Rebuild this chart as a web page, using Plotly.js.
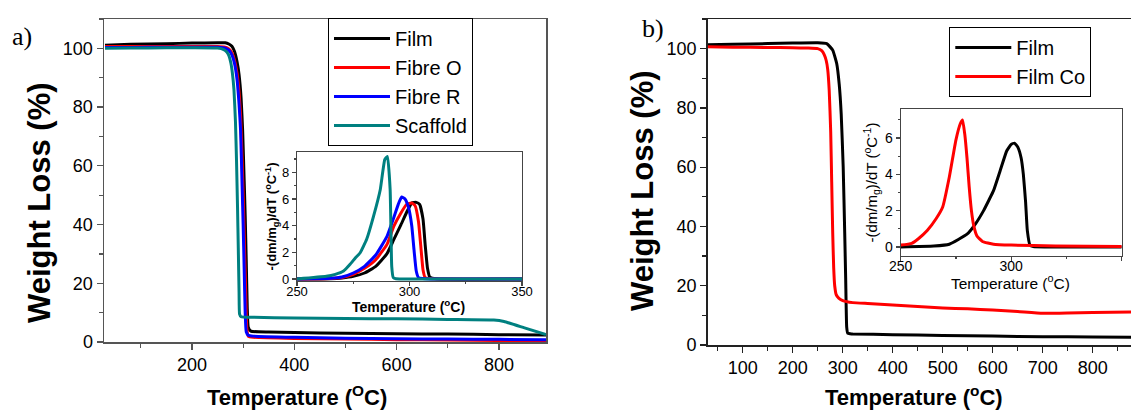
<!DOCTYPE html>
<html>
<head>
<meta charset="utf-8">
<script src="https://cdn.plot.ly/plotly-3.0.1.min.js"></script>
<style>html,body{margin:0;padding:0;background:#fff;}#chart{width:1131px;height:410px;}</style>
</head>
<body>
<div id="chart"></div>
<script>
// ---------- Panel a) main TGA curves ----------
const aFilmT   = [30, 80, 150, 200, 250, 265, 272, 278, 283, 288, 292, 296, 299, 302, 304, 306, 308, 310, 315, 350, 400, 500, 600, 700, 800, 892];
const aFilmW   = [101.1, 101.4, 101.6, 101.8, 101.9, 101.9, 101.5, 100.7, 99, 95.5, 91, 83, 72, 55, 43, 28, 12, 5, 3.7, 3.4, 3.2, 3.0, 2.8, 2.7, 2.5, 2.4];
const aFibOT   = [30, 80, 150, 200, 250, 265, 272, 278, 283, 288, 292, 295, 298, 301, 303, 305, 307, 310, 320, 400, 500, 600, 700, 800, 892];
const aFibOW   = [100.6, 100.6, 100.6, 100.6, 100.6, 100.4, 99.8, 98.5, 96, 91.5, 85, 77, 62, 44, 30, 17, 5, 2, 1.6, 1.2, 1.0, 0.8, 0.7, 0.5, 0.4];
const aFibRT   = [30, 80, 150, 200, 250, 265, 272, 278, 283, 288, 292, 295, 298, 300, 302, 304, 306, 310, 320, 400, 500, 600, 700, 800, 892];
const aFibRW   = [100.3, 100.3, 100.4, 100.4, 100.4, 100.1, 99.4, 97.8, 95, 89.5, 81, 72, 53, 40, 25, 10, 3.5, 2.3, 2.0, 1.6, 1.3, 1.1, 1.0, 0.9, 0.8];
const aScafT   = [30, 80, 150, 200, 250, 262, 268, 272, 276, 279, 282, 285, 287, 289, 290.5, 292, 293, 296, 320, 400, 500, 600, 700, 790, 810, 850, 892];
const aScafW   = [100.0, 100.1, 100.2, 100.2, 100.1, 99.6, 98.8, 97.6, 95, 91.5, 86, 75, 62, 46, 32, 17, 9.5, 8.6, 8.4, 8.2, 8.0, 7.9, 7.7, 7.5, 7.0, 4.8, 2.5];

// ---------- Panel a) inset DTG curves ----------
const iaFilmT  = [250, 265, 270, 275, 280, 285, 290, 293, 296, 299, 301, 303, 304.5, 306, 307, 308, 309, 312, 350];
const iaFilmD  = [0, 0.02, 0.08, 0.2, 0.45, 0.95, 1.9, 2.95, 4.0, 5.1, 5.7, 5.75, 5.6, 4.5, 2.5, 0.8, 0.15, 0.02, 0];
const iaFibOT  = [250, 265, 270, 275, 280, 285, 290, 293, 296, 298.7, 301, 302.5, 304, 305, 306, 307, 310, 350];
const iaFibOD  = [0, 0.04, 0.12, 0.35, 0.8, 1.45, 2.6, 3.95, 4.9, 5.6, 5.7, 5.5, 4.3, 2.5, 0.7, 0.1, 0.02, 0];
const iaFibRT  = [250, 265, 270, 275, 280, 285, 290, 293, 295, 296.5, 298, 299.5, 301, 302, 303, 304, 307, 350];
const iaFibRD  = [0, 0.05, 0.15, 0.45, 0.95, 1.8, 3.2, 4.6, 5.6, 6.15, 6.0, 5.4, 4.0, 2.2, 0.6, 0.1, 0.02, 0];
const iaScafT  = [250, 263, 267, 270.7, 273.6, 276, 278, 281, 284, 287, 289, 290.2, 291.4, 292.1, 292.8, 294, 300, 350];
const iaScafD  = [0, 0.2, 0.35, 0.6, 1.1, 1.6, 1.95, 3.0, 4.7, 6.7, 8.95, 9.2, 6.7, 0.95, 0.1, 0.02, 0, 0];

// ---------- Panel b) main TGA curves ----------
const bFilmT   = [30, 80, 150, 200, 250, 268, 280, 288, 293, 297, 301, 304, 306, 308, 310, 315, 320, 400, 500, 600, 700, 800, 877];
const bFilmW   = [101.3, 101.5, 101.7, 101.9, 102.0, 101.7, 99.5, 95, 88, 78, 60, 38, 22, 6, 4, 3.8, 3.7, 3.5, 3.2, 3.0, 2.8, 2.7, 2.6];
const bCoT     = [30, 80, 150, 200, 230, 250, 258, 263, 267, 270, 273, 276, 278, 280, 282, 284, 287, 292, 300, 320, 350, 400, 450, 500, 550, 600, 650, 700, 750, 800, 877];
const bCoW     = [100.6, 100.5, 100.4, 100.3, 100.2, 100, 99.3, 98, 96, 93, 86, 72, 55, 38, 26, 20, 17, 15.8, 15, 14.3, 14, 13.5, 13, 12.5, 12.2, 11.8, 11.3, 10.7, 10.8, 11, 11.1];

// ---------- Panel b) inset DTG curves ----------
const ibFilmT  = [250, 265, 272, 280, 284, 287.5, 290, 292, 295, 298, 300, 301.5, 303, 304.5, 305.5, 306.5, 307.3, 308.5, 310, 350];
const ibFilmD  = [0, 0.05, 0.15, 0.7, 1.3, 2.0, 2.6, 3.1, 4.2, 5.3, 5.65, 5.72, 5.5, 4.9, 4.0, 2.5, 0.9, 0.1, 0.02, 0];
const ibCoT    = [250, 255, 258, 262, 266, 269, 272, 275, 277, 278, 279, 280, 281, 282, 283, 284.5, 287, 292, 300, 320, 350];
const ibCoD    = [0.1, 0.2, 0.45, 0.9, 1.55, 2.2, 3.85, 5.9, 6.8, 7.0, 6.2, 4.9, 3.3, 2.0, 1.2, 0.6, 0.3, 0.15, 0.1, 0.05, 0.03];

const aNames = ['Film', 'Fibre O', 'Fibre R', 'Scaffold'];
const bNames = ['Film', 'Film Co'];
const colBlack = '#000000', colRed = '#ff0000', colBlue = '#0000ff', colTeal = '#008080';

const FONT = 'Liberation Sans, Arial, Helvetica, sans-serif';
const SERIF = 'Liberation Serif, Times New Roman, serif';

function line(x, y, color, name, xa, ya, opts) {
  return Object.assign({
    type: 'scatter', mode: 'lines', x: x, y: y, name: name,
    xaxis: xa, yaxis: ya, line: {color: color, width: 3, shape: 'spline', smoothing: 0.4},
    hoverinfo: 'skip', showlegend: false
  }, opts || {});
}

const traces = [
  line(aFilmT, aFilmW, colBlack, aNames[0], 'x', 'y', {showlegend: true, legend: 'legend'}),
  line(aFibOT, aFibOW, colRed, aNames[1], 'x', 'y', {showlegend: true, legend: 'legend'}),
  line(aFibRT, aFibRW, colBlue, aNames[2], 'x', 'y', {showlegend: true, legend: 'legend'}),
  line(aScafT, aScafW, colTeal, aNames[3], 'x', 'y', {showlegend: true, legend: 'legend'}),
  line(iaFilmT, iaFilmD, colBlack, aNames[0], 'x2', 'y2'),
  line(iaFibOT, iaFibOD, colRed, aNames[1], 'x2', 'y2'),
  line(iaFibRT, iaFibRD, colBlue, aNames[2], 'x2', 'y2'),
  line(iaScafT, iaScafD, colTeal, aNames[3], 'x2', 'y2'),
  line(bFilmT, bFilmW, colBlack, bNames[0], 'x3', 'y3', {showlegend: true, legend: 'legend2'}),
  line(bCoT, bCoW, colRed, bNames[1], 'x3', 'y3', {showlegend: true, legend: 'legend2'}),
  line(ibFilmT, ibFilmD, colBlack, bNames[0], 'x4', 'y4'),
  line(ibCoT, ibCoD, colRed, bNames[1], 'x4', 'y4')
];

function ax(o) {
  return Object.assign({
    showgrid: false, zeroline: false, showline: true, linewidth: 1.5,
    ticks: 'outside', tickwidth: 1.2, fixedrange: true,
    tickfont: {family: FONT, size: 18, color: '#000'}
  }, o);
}

const W = 1131, H = 410;
const px = v => v / W;
const py = v => (H - v) / H;

const layout = {
  width: W, height: H,
  margin: {l: 0, r: 0, t: 0, b: 0},
  paper_bgcolor: '#ffffff', plot_bgcolor: '#ffffff',
  font: {family: FONT, color: '#000'},
  showlegend: true,
  // panel a main
  xaxis: ax({domain: [px(104), px(546)], range: [28, 892], anchor: 'y', dtick: 200, tick0: 0,
    ticklen: 6, linecolor: '#555', tickcolor: '#555', mirror: true,
    minor: {dtick: 100, tick0: 0, ticks: 'outside', ticklen: 4, tickcolor: '#555'}}),
  yaxis: ax({domain: [py(342), py(19)], range: [0, 110], anchor: 'x', dtick: 20, tick0: 0,
    ticklen: 6, linecolor: '#555', tickcolor: '#555', mirror: true,
    minor: {dtick: 10, tick0: 0, ticks: 'outside', ticklen: 4, tickcolor: '#555'}}),
  // panel a inset
  xaxis2: ax({domain: [px(297), px(522)], range: [250, 350], anchor: 'y2', dtick: 50, tick0: 0,
    ticklen: 4, linecolor: '#444', tickcolor: '#444', mirror: true, linewidth: 1.2,
    ticklabelstandoff: -6,
    tickfont: {family: FONT, size: 13, color: '#000'},
    minor: {dtick: 25, tick0: 0, ticks: 'outside', ticklen: 2, tickcolor: '#444'}}),
  yaxis2: ax({domain: [py(281), py(152)], range: [-0.15, 9.53], anchor: 'x2', dtick: 2, tick0: 0,
    ticklen: 4, linecolor: '#444', tickcolor: '#444', mirror: true, linewidth: 1.2,
    tickfont: {family: FONT, size: 13, color: '#000'},
    minor: {dtick: 1, tick0: 0, ticks: 'outside', ticklen: 2, tickcolor: '#444'},
    title: {text: '-(dm/m<sub>g</sub>)/dT (<sup>o</sup>C<sup>-1</sup>)', standoff: 2,
      font: {family: FONT, size: 13, weight: 'bold', color: '#000'}}}),
  // panel b main
  xaxis3: ax({domain: [px(707.7), 1], range: [30, 876.6], anchor: 'y3', dtick: 100, tick0: 0,
    ticklen: 6, linecolor: '#222', tickcolor: '#222', mirror: true,
    minor: {dtick: 50, tick0: 0, ticks: 'outside', ticklen: 4, tickcolor: '#222'}}),
  yaxis3: ax({domain: [py(345), py(19)], range: [0, 110], anchor: 'x3', dtick: 20, tick0: 0,
    ticklen: 6, linecolor: '#222', tickcolor: '#222', mirror: false,
    minor: {dtick: 10, tick0: 0, ticks: 'outside', ticklen: 4, tickcolor: '#222'}}),
  // panel b inset
  xaxis4: ax({domain: [px(900.7), px(1121.7)], range: [250, 350], anchor: 'y4', dtick: 50, tick0: 0,
    ticklen: 4, linecolor: '#444', tickcolor: '#444', mirror: true, linewidth: 1.2,
    ticklabelstandoff: -7,
    tickfont: {family: FONT, size: 14, color: '#000'},
    minor: {dtick: 25, tick0: 0, ticks: 'outside', ticklen: 2, tickcolor: '#444'}}),
  yaxis4: ax({domain: [py(256), py(109)], range: [-0.5, 7.6], anchor: 'x4', dtick: 2, tick0: 0,
    ticklen: 4, linecolor: '#444', tickcolor: '#444', mirror: true, linewidth: 1.2,
    tickfont: {family: FONT, size: 14, color: '#000'},
    minor: {dtick: 1, tick0: 0, ticks: 'outside', ticklen: 2, tickcolor: '#444'},
    title: {text: '-(dm/m<sub>g</sub>)/dT (<sup>o</sup>C<sup>-1</sup>)', standoff: 3,
      font: {family: FONT, size: 15, color: '#000'}}}),
  legend: {x: px(328), y: py(18), xanchor: 'left', yanchor: 'top',
    bgcolor: '#ffffff', bordercolor: '#000', borderwidth: 1,
    font: {family: FONT, size: 20, color: '#000'}, itemwidth: 56, tracegroupgap: 0},
  legend2: {x: px(949.3), y: py(27), xanchor: 'left', yanchor: 'top',
    bgcolor: '#ffffff', bordercolor: '#000', borderwidth: 1,
    font: {family: FONT, size: 20, color: '#000'}, itemwidth: 56, tracegroupgap: 0},
  annotations: [
    {text: 'a)', x: px(22), y: py(37), xref: 'paper', yref: 'paper', showarrow: false,
      xanchor: 'center', yanchor: 'middle', font: {family: SERIF, size: 26, color: '#000'}},
    {text: 'b)', x: px(653), y: py(29), xref: 'paper', yref: 'paper', showarrow: false,
      xanchor: 'center', yanchor: 'middle', font: {family: SERIF, size: 26, color: '#000'}},
    {text: 'Weight Loss (%)', x: px(39), y: py(203), xref: 'paper', yref: 'paper', showarrow: false,
      textangle: -90, xanchor: 'center', yanchor: 'middle',
      font: {family: FONT, size: 31, weight: 'bold', color: '#000'}},
    {text: 'Weight Loss (%)', x: px(642), y: py(190), xref: 'paper', yref: 'paper', showarrow: false,
      textangle: -90, xanchor: 'center', yanchor: 'middle',
      font: {family: FONT, size: 31, weight: 'bold', color: '#000'}},
    {text: 'Temperature (<sup>O</sup>C)', x: px(296.5), y: py(396), xref: 'paper', yref: 'paper', showarrow: false,
      xanchor: 'center', yanchor: 'middle',
      font: {family: FONT, size: 22, weight: 'bold', color: '#000'}},
    {text: 'Temperature (<sup>o</sup>C)', x: px(913.5), y: py(396), xref: 'paper', yref: 'paper', showarrow: false,
      xanchor: 'center', yanchor: 'middle',
      font: {family: FONT, size: 22, weight: 'bold', color: '#000'}},
    {text: 'Temperature (<sup>o</sup>C)', x: px(408), y: py(306), xref: 'paper', yref: 'paper', showarrow: false,
      xanchor: 'center', yanchor: 'middle',
      font: {family: FONT, size: 14, weight: 'bold', color: '#000'}},
    {text: 'Temperature (<sup>o</sup>C)', x: px(1010), y: py(282), xref: 'paper', yref: 'paper', showarrow: false,
      xanchor: 'center', yanchor: 'middle',
      font: {family: FONT, size: 15.5, color: '#000'}}
  ]
};

Plotly.newPlot('chart', traces, layout, {staticPlot: true, displayModeBar: false});
</script>
</body>
</html>
